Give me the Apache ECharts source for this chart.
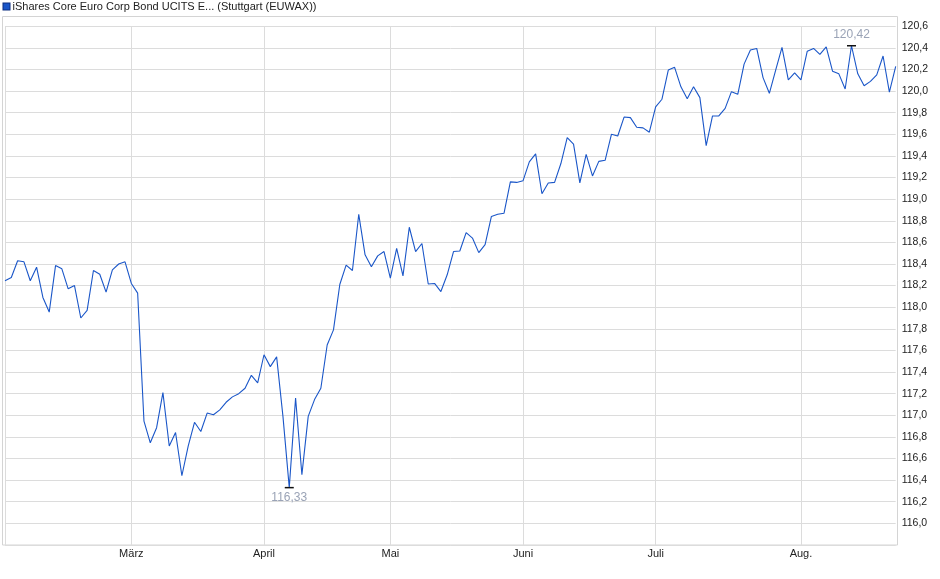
<!DOCTYPE html>
<html>
	<head>
		<meta charset="utf-8">
		<title>iShares Core Euro Corp Bond</title>
		<script src="https://cdn.jsdelivr.net/npm/echarts@6/dist/echarts.min.js"></script>
		<style>
			html, body { margin: 0; padding: 0; background: #fff; }
			#main { width: 940px; height: 579px; }
		</style>
	</head>
	<body>
		<div id="main"></div>
		<script>
			// Daten
			var seriesName = 'iShares Core Euro Corp Bond UCITS E... (Stuttgart (EUWAX))';
			var monthNames = ['Feb.', 'März', 'April', 'Mai', 'Juni', 'Juli', 'Aug.'];
			var monthDays = [20, 21, 20, 21, 21, 23, 16];
			var prices = [
				118.245, 118.275, 118.43, 118.42, 118.245, 118.37, 118.09, 117.955, 118.385, 118.355,
				118.17, 118.20, 117.90, 117.97, 118.34, 118.305, 118.14, 118.345, 118.40, 118.42,
				118.22, 118.13, 116.945, 116.745, 116.885, 117.21, 116.715, 116.84, 116.44, 116.715,
				116.935, 116.85, 117.02, 117.005, 117.05, 117.12, 117.17, 117.20, 117.25, 117.37,
				117.30, 117.56, 117.45, 117.54, 116.99, 116.33, 117.16, 116.45, 116.99, 117.145,
				117.25, 117.65, 117.79, 118.21, 118.39, 118.34, 118.86, 118.485, 118.375, 118.475,
				118.515, 118.27, 118.545, 118.29, 118.74, 118.515, 118.59, 118.215, 118.22, 118.145,
				118.30, 118.515, 118.52, 118.69, 118.64, 118.505, 118.58, 118.84, 118.86, 118.87,
				119.16, 119.155, 119.17, 119.345, 119.42, 119.05, 119.15, 119.155, 119.33, 119.57,
				119.51, 119.15, 119.415, 119.215, 119.35, 119.36, 119.60, 119.585, 119.76, 119.755,
				119.665, 119.66, 119.62, 119.855, 119.925, 120.195, 120.22, 120.04, 119.93, 120.04,
				119.94, 119.495, 119.77, 119.77, 119.84, 119.995, 119.97, 120.25, 120.38, 120.395,
				120.125, 119.98, 120.195, 120.405, 120.105, 120.17, 120.105, 120.37, 120.395, 120.34,
				120.41, 120.185, 120.16, 120.02, 120.42, 120.16, 120.05, 120.09, 120.15, 120.325,
				119.99, 120.23
			];

			// Kategorien: Handelstage, Monatsname am ersten Handelstag
			var categories = [];
			var monthStart = {};
			for(var m = 0; m < monthNames.length; m++) {
				for(var d = 0; d < monthDays[m]; d++) {
					if(d == 0) {
						monthStart[categories.length] = monthNames[m];
					}
					categories.push(monthNames[m] + ' ' + (d + 1));
				}
			}

			function fmt(v) {
				return v.toFixed(2).replace('.', ',');
			}

			var lineColor = '#1a56c8';
			var myChart = echarts.init(document.getElementById('main'));

			var option = {
				animation: false,
				textStyle: { fontFamily: 'Liberation Sans, Arial, sans-serif' },
				// Titelzeile mit Farbkästchen
				title: {
					left: 3.5,
					top: 1,
					padding: 0,
					text: '{sq|}{t|' + seriesName + '}',
					textStyle: {
						fontWeight: 'normal',
						fontSize: 11,
						rich: {
							sq: {
								width: 6,
								height: 6,
								backgroundColor: lineColor,
								borderColor: '#0c2f80',
								borderWidth: 1
							},
							t: {
								fontSize: 11,
								fontWeight: 'normal',
								color: '#222',
								padding: [0, 0, 0, 3],
								fontFamily: 'Liberation Sans, Arial, sans-serif'
							}
						}
					}
				},
				grid: {
					left: 5,
					right: 44.3,
					top: 26.3,
					bottom: 34.1
				},
				graphic: [{
					type: 'rect',
					shape: { x: 2.5, y: 16.5, width: 895, height: 528.5 },
					style: { fill: 'none', stroke: '#d4d4d4', lineWidth: 1 },
					z: -1
				}],
				xAxis: {
					type: 'category',
					boundaryGap: false,
					data: categories,
					axisLine: { show: false },
					axisTick: { show: false },
					axisLabel: {
						interval: function(i) { return monthStart[i] !== undefined && i > 0; },
						formatter: function(v, i) { return monthStart[i] || ''; },
						color: '#222',
						fontSize: 11,
						margin: 4
					},
					splitLine: {
						show: true,
						interval: function(i) { return monthStart[i] !== undefined; },
						lineStyle: { color: '#dcdcdc', width: 1 }
					}
				},
				yAxis: {
					type: 'value',
					position: 'right',
					min: 115.8,
					max: 120.6,
					interval: 0.2,
					axisLine: { show: false },
					axisTick: { show: false },
					axisLabel: {
						color: '#222',
						fontSize: 10.5,
						margin: 6,
						formatter: function(v) {
							if(v < 115.9) return '';
							return v.toFixed(1).replace('.', ',');
						}
					},
					splitLine: { lineStyle: { color: '#dcdcdc', width: 1 } }
				},
				series: [{
					name: seriesName,
					type: 'line',
					data: prices,
					showSymbol: false,
					symbol: 'none',
					color: lineColor,
					lineStyle: { width: 1.1, color: lineColor },
					markPoint: {
						symbol: 'rect',
						symbolSize: [9, 1.5],
						itemStyle: { color: '#111' },
						data: [
							{ type: 'max', label: { position: 'top', distance: 4 } },
							{ type: 'min', label: { position: 'bottom', distance: 3 } }
						],
						label: {
							show: true,
							color: '#9aa3b6',
							fontSize: 12,
							formatter: function(p) { return fmt(p.value); }
						}
					}
				}]
			};

			myChart.setOption(option);
		</script>
	</body>
</html>
